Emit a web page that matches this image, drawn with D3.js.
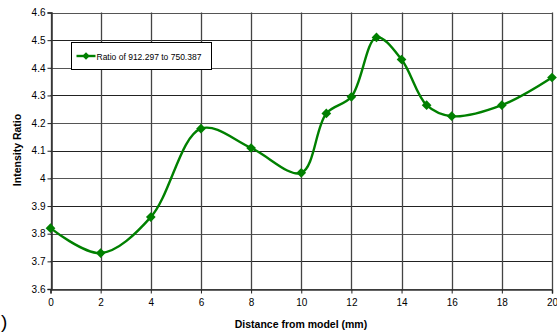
<!DOCTYPE html>
<html>
<head>
<meta charset="utf-8">
<script src="https://cdn.jsdelivr.net/npm/d3@7"></script>
<style>
  body { margin: 0; background: #fff; }
  text { font-family: "Liberation Sans", Arial, sans-serif; }
</style>
</head>
<body>
<svg id="chart"></svg>
<script>
// data
var distance = [0, 2, 4, 6, 8, 10, 11, 12, 13, 14, 15, 16, 18, 20];
var ratio = [3.82, 3.73, 3.86, 4.18, 4.11, 4.02, 4.235, 4.295, 4.51, 4.43, 4.265, 4.225, 4.265, 4.365];
var xTicks = [0, 2, 4, 6, 8, 10, 12, 14, 16, 18, 20];
var yTicks = [3.6, 3.7, 3.8, 3.9, 4, 4.1, 4.2, 4.3, 4.4, 4.5, 4.6];
var seriesName = "Ratio of 912.297 to 750.387";

var width = 557, height = 335;
var margin = {left: 50.5, right: 5, top: 12.5, bottom: 46};

var svg = d3.select("#chart")
    .attr("width", width)
    .attr("height", height);

var x = d3.scaleLinear().domain([0, 20]).range([margin.left, width - margin.right]);
var y = d3.scaleLinear().domain([3.6, 4.6]).range([height - margin.bottom, margin.top]);

// grid
svg.append("g").selectAll("line.h")
  .data(yTicks)
  .enter().append("line")
    .attr("x1", x(0)).attr("x2", x(20))
    .attr("y1", function(d){ return Math.round(y(d)) + 0.5 })
    .attr("y2", function(d){ return Math.round(y(d)) + 0.5 })
    .attr("stroke", function(d, i){ return i % 2 ? "#222" : "#555" })
    .attr("stroke-width", 1.2);

svg.append("g").selectAll("line.v")
  .data(xTicks)
  .enter().append("line")
    .attr("x1", function(d){ return Math.round(x(d)) + 0.5 })
    .attr("x2", function(d){ return Math.round(x(d)) + 0.5 })
    .attr("y1", y(4.6)).attr("y2", y(3.6))
    .attr("stroke", "#444")
    .attr("stroke-width", 1.3);

// axes
var yAxis = svg.append("g")
    .attr("transform", "translate(" + (Math.round(x(0)) + 0.5) + ",0)")
    .call(d3.axisLeft(y).tickValues(yTicks).tickSize(4).tickPadding(2).tickFormat(d3.format("")));
var xAxis = svg.append("g")
    .attr("transform", "translate(0," + (Math.round(y(3.6)) + 0.5) + ")")
    .call(d3.axisBottom(x).tickValues(xTicks).tickSize(4).tickPadding(5).tickFormat(d3.format("d")));

[yAxis, xAxis].forEach(function(a){
  a.select(".domain").attr("stroke", "#333").attr("stroke-width", 1.5);
  a.selectAll(".tick line").attr("stroke", "#222");
  a.selectAll("text").attr("font-size", 10).attr("fill", "#000")
    .attr("font-family", "'Liberation Sans', Arial, sans-serif");
});

// smoothed line
var line = d3.line()
    .x(function(d, i){ return x(distance[i]) })
    .y(function(d){ return y(d) })
    .curve(d3.curveCatmullRom.alpha(0.5));

svg.append("path")
    .datum(ratio)
    .attr("d", line)
    .attr("fill", "none")
    .attr("stroke", "#008000")
    .attr("stroke-width", 2.4);

var diamond = d3.symbol().type(d3.symbolDiamond2).size(60);

svg.append("g").selectAll("path")
  .data(ratio)
  .enter().append("path")
    .attr("d", diamond)
    .attr("transform", function(d, i){ return "translate(" + x(distance[i]) + "," + y(d) + ")" })
    .attr("fill", "#008000");

// legend
var lg = svg.append("g").attr("transform", "translate(71.5,42.5)");
lg.append("rect")
    .attr("width", 140).attr("height", 27)
    .attr("fill", "#fff").attr("stroke", "#000").attr("stroke-width", 1);
lg.append("line")
    .attr("x1", 5).attr("x2", 24).attr("y1", 13.5).attr("y2", 13.5)
    .attr("stroke", "#008000").attr("stroke-width", 2.4);
lg.append("path")
    .attr("d", d3.symbol().type(d3.symbolDiamond2).size(36))
    .attr("transform", "translate(14.5,13.5)")
    .attr("fill", "#008000");
lg.append("text")
    .attr("x", 25).attr("y", 17)
    .attr("font-size", 8.5)
    .text(seriesName);

// axis titles
svg.append("text")
    .attr("transform", "translate(21,150) rotate(-90)")
    .attr("text-anchor", "middle")
    .attr("font-size", 10.5)
    .attr("font-weight", "bold")
    .text("Intensity Ratio");

svg.append("text")
    .attr("x", 301).attr("y", 328)
    .attr("text-anchor", "middle")
    .attr("font-size", 10.5)
    .attr("font-weight", "bold")
    .text("Distance from model (mm)");

// panel label, mostly cropped in the source
svg.append("text")
    .attr("x", 1).attr("y", 328)
    .attr("font-size", 19)
    .text(")");
</script>
</body>
</html>
